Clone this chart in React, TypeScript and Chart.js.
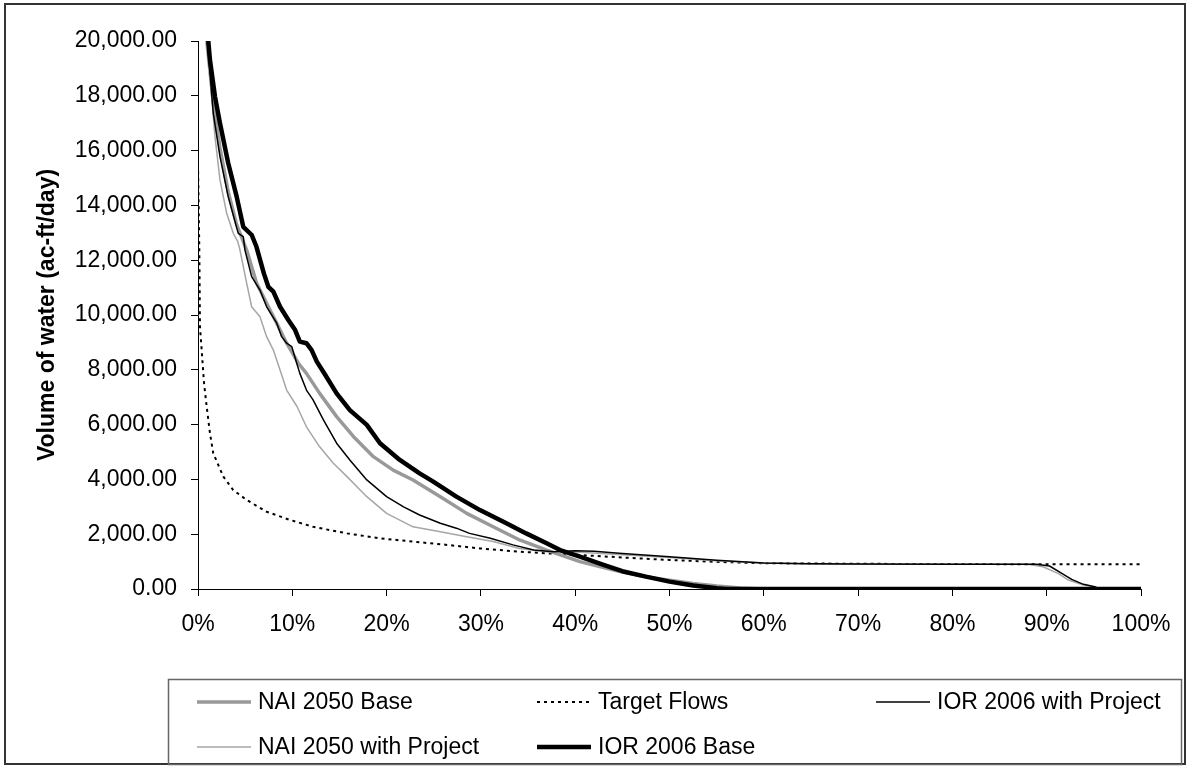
import React, { useEffect, useRef } from "react";
import { Chart, registerables } from "chart.js";

Chart.register(...registerables);

// ---- data (x = % of time exceeded, y = ac-ft/day) ----
const seriesNames = [
  "NAI 2050 Base",
  "Target Flows",
  "IOR 2006 with Project",
  "NAI 2050 with Project",
  "IOR 2006 Base",
];

const pctNaiBase = [0, 1.0, 1.6, 2.33, 3.2, 4.1, 5.16, 6.22, 7.28, 8.35, 9.4, 10.64, 11.5, 12.9, 14.7, 16.5, 18.6, 20.7, 22.8, 25.7, 28.5, 31.3, 34.1, 36.97, 40.5, 43, 45, 47.5, 50, 52.5, 55, 57.5, 60, 100];
const valNaiBase = [45000, 20000, 17800, 16100, 14500, 13300, 12370, 11160, 10430, 9700, 8970, 8240, 7870, 7140, 6290, 5560, 4830, 4340, 3980, 3370, 2760, 2270, 1790, 1420, 1000, 780, 620, 450, 320, 200, 110, 40, 0, 0];

const pctTarget = [0, 0.14, 0.21, 0.39, 0.64, 0.92, 1.27, 1.62, 2.69, 3.74, 5.16, 7.28, 9.76, 12.2, 15.8, 19.3, 22.8, 26.4, 29.9, 33.4, 37, 40, 45, 50, 55, 60, 70, 80, 100];
const valTarget = [15500, 12370, 9570, 8720, 7510, 6660, 5680, 4950, 4100, 3610, 3250, 2820, 2520, 2270, 2030, 1850, 1730, 1610, 1480, 1380, 1300, 1250, 1150, 1060, 990, 940, 920, 910, 900];

const pctIorProj = [0, 0.99, 1.62, 2.33, 3.2, 4.27, 4.8, 4.98, 5.69, 6.57, 7.28, 8.35, 8.87, 9.4, 9.94, 10.47, 10.8, 11.5, 12.2, 13.3, 14.7, 16.1, 17.9, 20, 21.8, 23.5, 25.7, 27.4, 28.8, 31, 33.4, 35.6, 37.7, 40, 42, 45, 50, 55, 60, 65, 70, 80, 88.9, 90.3, 91.6, 92.65, 93.9, 95.1, 95.6, 100];
const valIorProj = [45000, 20000, 17360, 15780, 14320, 12980, 12860, 12370, 11400, 10910, 10300, 9700, 9210, 8970, 8850, 8240, 7870, 7260, 6900, 6170, 5320, 4710, 3980, 3370, 3000, 2700, 2400, 2220, 2030, 1850, 1610, 1420, 1360, 1400, 1380, 1300, 1180, 1050, 950, 920, 910, 905, 900, 840, 570, 350, 170, 84, 0, 0];

const pctNaiProj = [0, 0.85, 1.45, 1.8, 2.33, 3.04, 3.74, 4.2, 4.45, 5.16, 5.69, 6.57, 7.28, 7.99, 8.7, 9.4, 10.5, 11.5, 12.9, 14.35, 15.8, 17.9, 20, 22.8, 25.7, 28.5, 31.3, 34.1, 36.97, 40, 45, 50, 55, 60, 65, 70, 80, 88, 89.6, 91.2, 92.3, 93.9, 94.7, 95.2, 100];
const valNaiProj = [45000, 19900, 17970, 16510, 14930, 13710, 12980, 12700, 12370, 11160, 10300, 9940, 9210, 8720, 7990, 7260, 6660, 5920, 5190, 4590, 4100, 3370, 2760, 2270, 2090, 1910, 1730, 1480, 1360, 1350, 1250, 1150, 1030, 950, 910, 900, 900, 900, 814, 572, 328, 146, 109, 0, 0];

const pctIorBase = [0, 1.09, 1.27, 1.8, 2.33, 3.2, 4.1, 4.8, 5.7, 6.2, 7.0, 7.46, 7.99, 8.7, 9.58, 10.3, 10.8, 11.5, 12.05, 12.6, 13.5, 14.7, 16.1, 17.9, 19.3, 21.4, 23.5, 24.95, 27.4, 29.9, 32.7, 34.8, 36.97, 38.4, 40.5, 43, 45, 47.5, 50, 52.5, 55, 56, 100];
const valIorBase = [45000, 20000, 19300, 17970, 17000, 15550, 14320, 13220, 12920, 12490, 11500, 11030, 10850, 10300, 9820, 9450, 9030, 8970, 8720, 8300, 7810, 7140, 6530, 5990, 5320, 4710, 4220, 3920, 3370, 2880, 2400, 2030, 1670, 1420, 1180, 880, 650, 450, 270, 130, 30, 0, 0];

const xTickValues = [0, 10, 20, 30, 40, 50, 60, 70, 80, 90, 100];
const yMin = 0;
const yMax = 20000;
const yStep = 2000;

const FONT = '"Liberation Sans", Arial, sans-serif';

function pts(xs: number[], ys: number[]) {
  return xs.map((x, i) => ({ x, y: ys[i] }));
}

const frameAndLegend = {
  id: "frameAndLegend",
  afterDraw(chart: any) {
    const ctx = chart.ctx as CanvasRenderingContext2D;
    ctx.save();
    // outer frame
    ctx.strokeStyle = "#333333";
    ctx.lineWidth = 2;
    ctx.strokeRect(5, 4, 1180, 760);
    // legend box
    ctx.strokeStyle = "#666666";
    ctx.lineWidth = 1.5;
    ctx.strokeRect(168.5, 679.5, 1013, 85);
    const slots = [
      { x: 197, y: 702 },
      { x: 537, y: 702 },
      { x: 876, y: 702 },
      { x: 197, y: 747 },
      { x: 537, y: 747 },
    ];
    const dsList = chart.data.datasets;
    slots.forEach((s, i) => {
      const ds = dsList[i];
      ctx.beginPath();
      ctx.strokeStyle = ds.borderColor;
      ctx.lineWidth = ds.borderWidth;
      ctx.setLineDash(ds.borderDash || []);
      ctx.moveTo(s.x, s.y);
      ctx.lineTo(s.x + 54, s.y);
      ctx.stroke();
      ctx.setLineDash([]);
      ctx.fillStyle = "#000";
      ctx.font = `23px ${FONT}`;
      ctx.textBaseline = "middle";
      ctx.textAlign = "left";
      ctx.fillText(ds.label, s.x + 61, s.y + 1);
    });
    ctx.restore();
  },
};

export default function App() {
  const ref = useRef<HTMLCanvasElement>(null);
  useEffect(() => {
    if (!ref.current) return;
    const chart = new Chart(ref.current, {
      type: "line",
      data: {
        datasets: [
          {
            label: seriesNames[0],
            data: pts(pctNaiBase, valNaiBase),
            borderColor: "#999999",
            borderWidth: 3.5,
            order: 3,
          },
          {
            label: seriesNames[1],
            data: pts(pctTarget, valTarget),
            borderColor: "#000000",
            borderWidth: 2,
            borderDash: [3, 4],
            order: 4,
          },
          {
            label: seriesNames[2],
            data: pts(pctIorProj, valIorProj),
            borderColor: "#000000",
            borderWidth: 1.5,
            order: 1,
          },
          {
            label: seriesNames[3],
            data: pts(pctNaiProj, valNaiProj),
            borderColor: "#a6a6a6",
            borderWidth: 1.5,
            order: 2,
          },
          {
            label: seriesNames[4],
            data: pts(pctIorBase, valIorBase),
            borderColor: "#000000",
            borderWidth: 4.5,
            order: 0,
          },
        ],
      },
      plugins: [frameAndLegend],
      options: {
        animation: false,
        responsive: false,
        devicePixelRatio: 1,
        layout: { padding: { left: 0, top: 41, right: 47, bottom: 0 } },
        elements: {
          point: { radius: 0, hoverRadius: 0 },
          line: { tension: 0, borderJoinStyle: "round", borderCapStyle: "butt" },
        },
        plugins: {
          legend: { display: false },
          tooltip: { enabled: false },
          title: { display: false },
        },
        scales: {
          x: {
            type: "linear",
            min: 0,
            max: 100,
            afterBuildTicks: (scale: any) => {
              scale.ticks = xTickValues.map((v) => ({ value: v }));
            },
            afterFit: (scale: any) => {
              scale.height = 178;
            },
            ticks: {
              color: "#000",
              font: { family: FONT, size: 23 },
              padding: 15,
              maxRotation: 0,
              autoSkip: false,
              callback: (v: any) => `${v}%`,
            },
            grid: { drawOnChartArea: false, drawTicks: true, tickLength: 7, color: "#000" },
            border: { display: true, color: "#000", width: 1 },
          },
          y: {
            type: "linear",
            min: yMin,
            max: yMax,
            afterFit: (scale: any) => {
              scale.width = 198;
            },
            ticks: {
              stepSize: yStep,
              color: "#000",
              font: { family: FONT, size: 23 },
              padding: 14,
              callback: (v: any) =>
                Number(v).toLocaleString("en-US", { minimumFractionDigits: 2, maximumFractionDigits: 2 }),
            },
            title: {
              display: true,
              text: "Volume of water (ac-ft/day)",
              color: "#000",
              font: { family: FONT, size: 23, weight: "bold" },
              padding: { top: 34, bottom: 0 },
            },
            grid: { drawOnChartArea: false, drawTicks: true, tickLength: 7, color: "#000" },
            border: { display: true, color: "#000", width: 1 },
          },
        },
      },
    } as any);
    return () => chart.destroy();
  }, []);
  return (
    <div style={{ position: "absolute", left: 0, top: 0, width: 1188, height: 767, background: "#fff" }}>
      <canvas ref={ref} width={1188} height={767} style={{ display: "block", width: 1188, height: 767 }} />
    </div>
  );
}
